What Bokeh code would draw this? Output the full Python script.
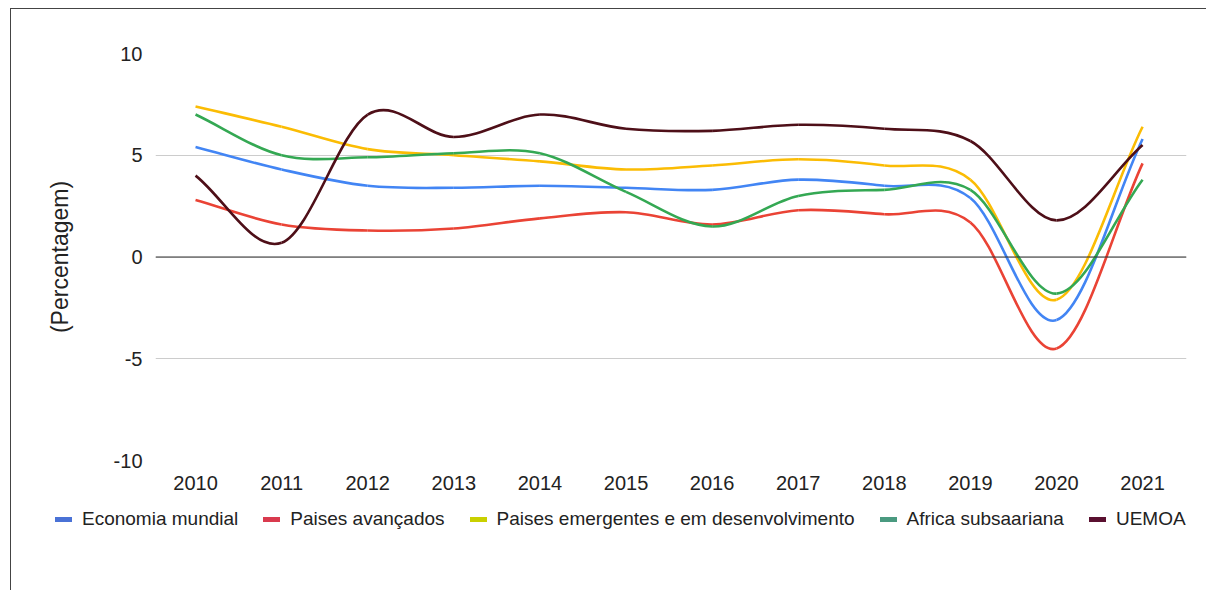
import numpy as np
from bokeh.plotting import figure
from bokeh.models import Range1d, FixedTicker, Span, Legend, LegendItem
from bokeh.embed import file_html
from bokeh.resources import INLINE

years = [2010, 2011, 2012, 2013, 2014, 2015, 2016, 2017, 2018, 2019, 2020, 2021]
economia_mundial = [5.4, 4.3, 3.5, 3.4, 3.5, 3.4, 3.3, 3.8, 3.5, 2.9, -3.1, 5.8]
paises_avancados = [2.8, 1.6, 1.3, 1.4, 1.9, 2.2, 1.6, 2.3, 2.1, 1.7, -4.5, 4.6]
paises_emergentes = [7.4, 6.4, 5.3, 5.0, 4.7, 4.3, 4.5, 4.8, 4.5, 3.8, -2.1, 6.4]
africa_subsaariana = [7.0, 5.0, 4.9, 5.1, 5.1, 3.2, 1.5, 3.0, 3.3, 3.3, -1.8, 3.8]
uemoa = [4.0, 0.7, 7.0, 5.9, 7.0, 6.3, 6.2, 6.5, 6.3, 5.7, 1.8, 5.5]

series_names = ["Economia mundial", "Paises avançados",
                "Paises emergentes e em desenvolvimento", "Africa subsaariana", "UEMOA"]
series_values = [economia_mundial, paises_avancados, paises_emergentes,
                 africa_subsaariana, uemoa]
line_colors = ["#4285f4", "#ea4335", "#fbbc04", "#34a853", "#4e0f18"]
legend_colors = ["#4a72d6", "#d93a4e", "#c9d000", "#4a9a80", "#5a1030"]
y_ticks = [-10, -5, 0, 5, 10]
y_tick_labels = {-10: "-10", -5: "-5", 0: "0", 5: "5", 10: "10"}

FONT = "Liberation Sans"
W = 1196

p = figure(width=W, height=491, output_backend="svg", toolbar_location=None,
           x_range=Range1d(2009.535, 2021.51), y_range=Range1d(-10, 10),
           min_border_left=144, min_border_right=21, min_border_top=44,
           min_border_bottom=40)
p.styles = {"border-top": "1px solid #444", "border-left": "1px solid #444",
            "margin-left": "10px", "margin-top": "8px"}
p.outline_line_color = None
p.background_fill_color = "white"

p.xaxis.ticker = FixedTicker(ticks=years)
p.yaxis.ticker = FixedTicker(ticks=y_ticks)
p.yaxis.major_label_overrides = y_tick_labels
for ax in (p.xaxis[0], p.yaxis[0]):
    ax.axis_line_color = None
    ax.major_tick_line_color = None
    ax.minor_tick_line_color = None
    ax.major_label_text_font = FONT
    ax.major_label_text_font_size = "20px"
    ax.major_label_text_color = "#222222"
p.xaxis.major_label_standoff = 9
p.yaxis.major_label_standoff = 7
p.yaxis.axis_label = "(Percentagem)"
p.yaxis.axis_label_text_font = FONT
p.yaxis.axis_label_text_font_size = "23px"
p.yaxis.axis_label_text_font_style = "normal"
p.yaxis.axis_label_text_color = "#222222"
p.yaxis.axis_label_standoff = 38

p.xgrid.grid_line_color = None
p.ygrid.ticker = FixedTicker(ticks=y_ticks)
p.ygrid.grid_line_color = "#cccccc"
p.ygrid.grid_line_width = 1
p.add_layout(Span(location=0, dimension="width", line_color="#333333", line_width=1))

# separate legend figure (its own root, so its frame is not aligned with p)
lf = figure(width=W, height=91, output_backend="svg", toolbar_location=None,
            x_axis_type=None, y_axis_type=None,
            x_range=Range1d(0, 1), y_range=Range1d(0, 1),
            min_border_left=0, min_border_right=0, min_border_top=0,
            min_border_bottom=0)
lf.styles = {"border-left": "1px solid #444", "margin-left": "10px"}
lf.outline_line_color = None
lf.xgrid.grid_line_color = None
lf.ygrid.grid_line_color = None

xs = np.array(years, dtype=float)
items = []
for name, vals, lc, gc in zip(series_names, series_values, line_colors, legend_colors):
    y = np.array(vals, dtype=float)
    n = len(y)
    t = np.empty(n)
    t[1:-1] = (y[2:] - y[:-2]) / 2.0
    t[0] = y[1] - y[0]
    t[-1] = y[-1] - y[-2]
    step = 1.0
    p.bezier(x0=xs[:-1], y0=y[:-1], x1=xs[1:], y1=y[1:],
             cx0=xs[:-1] + step / 3, cy0=y[:-1] + t[:-1] / 3,
             cx1=xs[1:] - step / 3, cy1=y[1:] - t[1:] / 3,
             line_color=lc, line_width=2.6)
    proxy = lf.line(x=[np.nan, np.nan], y=[np.nan, np.nan], line_color=gc,
                    line_width=5, line_cap="round")
    items.append(LegendItem(label=name, renderers=[proxy]))

legend = Legend(items=items, orientation="horizontal", location=(44, 60),
                glyph_width=17, glyph_height=20, label_standoff=10, spacing=25,
                padding=0, margin=0, border_line_color=None,
                background_fill_alpha=0, label_text_font=FONT,
                label_text_font_size="19px", label_text_color="#222222",
                label_height=20)
lf.add_layout(legend, "center")

open("out.html", "w").write(file_html([p, lf], INLINE))
